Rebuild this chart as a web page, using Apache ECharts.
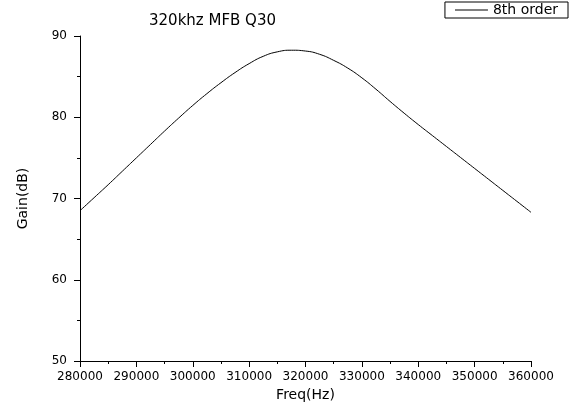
<!DOCTYPE html>
<html>
<head>
<meta charset="utf-8">
<script src="https://cdn.jsdelivr.net/npm/echarts@6/dist/echarts.min.js"></script>
<style>
  html, body { margin: 0; padding: 0; background: #fff; }
  #chart { width: 573px; height: 414px; }
</style>
</head>
<body>
<div id="chart"></div>
<script>
// values
const freq = [
  280000, 282500, 285000, 287500, 290000, 292500, 295000, 297500, 300000,
  302500, 305000, 307500, 310000, 312500, 315000, 317500, 320000, 322500,
  325000, 327500, 330000, 332500, 335000, 337500, 340000, 342500, 345000,
  347500, 350000, 352500, 355000, 357500, 360000
]
const gain = [
  68.5, 70.1, 71.7, 73.35, 75.0, 76.65, 78.3, 79.9, 81.45,
  82.9, 84.25, 85.5, 86.6, 87.5, 88.05, 88.25, 88.15, 87.75,
  87.0, 86.05, 84.85, 83.45, 81.95, 80.5, 79.1, 77.75, 76.4,
  75.05, 73.7, 72.35, 71.0, 69.65, 68.3
]
const seriesName = '8th order'

const font = 'DejaVu Sans, sans-serif'
const myChart = echarts.init(document.getElementById('chart'))

const axisCommon = {
  axisLine: { show: true, lineStyle: { color: '#000', width: 1 } },
  axisTick: { show: true, inside: false, length: 6, lineStyle: { color: '#000' } },
  minorTick: { show: true, splitNumber: 2, length: 3, lineStyle: { color: '#000' } },
  splitLine: { show: false },
  axisLabel: { color: '#000', fontFamily: font, fontSize: 12 },
  nameTextStyle: { color: '#000', fontFamily: font, fontSize: 14 }
}

myChart.setOption({
  animation: false,
  backgroundColor: '#fff',
  title: {
    text: '320khz MFB Q30',
    left: 149,
    top: 14,
    padding: 0,
    textStyle: { color: '#000', fontFamily: font, fontSize: 15, fontWeight: 'normal' }
  },
  legend: {
    right: 5,
    top: 2,
    padding: [1, 10, 1, 10],
    icon: 'rect',
    itemWidth: 33,
    itemHeight: 1,
    borderColor: '#000',
    borderWidth: 1,
    borderRadius: 0,
    textStyle: { color: '#000', fontFamily: font, fontSize: 14 },
    data: [seriesName]
  },
  grid: { left: 80, right: 42, top: 36, bottom: 53 },
  xAxis: Object.assign({}, axisCommon, {
    type: 'value',
    min: 280000,
    max: 360000,
    interval: 10000,
    name: 'Freq(Hz)',
    nameLocation: 'middle',
    nameGap: 27,
    axisLabel: Object.assign({}, axisCommon.axisLabel, {
      margin: 10,
      formatter: v => String(v)
    })
  }),
  yAxis: Object.assign({}, axisCommon, {
    type: 'value',
    min: 50,
    max: 90,
    interval: 10,
    name: 'Gain(dB)',
    nameLocation: 'middle',
    nameGap: 50,
    axisLabel: Object.assign({}, axisCommon.axisLabel, { margin: 13 })
  }),
  series: [
    {
      name: seriesName,
      type: 'line',
      smooth: true,
      symbol: 'none',
      lineStyle: { color: '#000', width: 1 },
      itemStyle: { color: '#000' },
      data: freq.map((f, i) => [f, gain[i]])
    }
  ]
})
</script>
</body>
</html>
